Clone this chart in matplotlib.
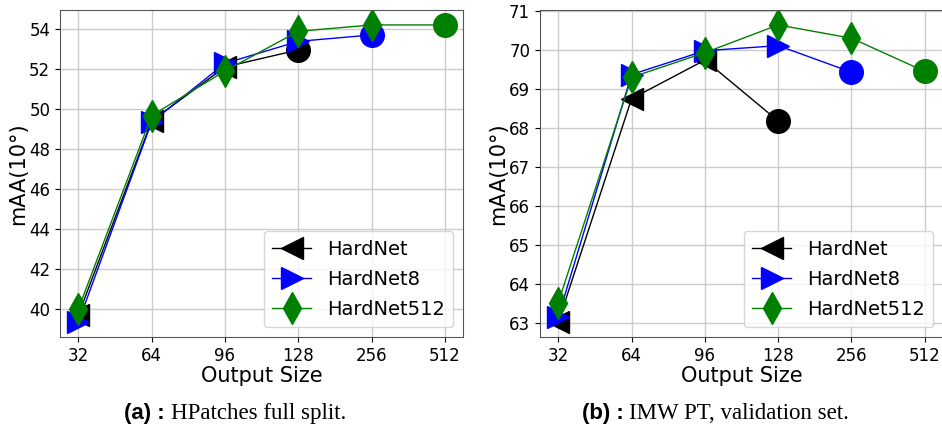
import numpy as np
import matplotlib.pyplot as plt

sizes = ['32', '64', '96', '128', '256', '512']

# (a) HPatches full split
hp_hardnet = [39.7, 49.4, 52.1, 52.95]
hp_hardnet8 = [39.35, 49.35, 52.28, 53.38, 53.7]
hp_hardnet512 = [40.0, 49.67, 51.9, 53.88, 54.2, 54.2]

# (b) IMW PT validation set
imw_hardnet = [63.03, 68.75, 69.74, 68.18]
imw_hardnet8 = [63.17, 69.37, 69.98, 70.11, 69.43]
imw_hardnet512 = [63.53, 69.3, 69.93, 70.64, 70.3, 69.45]

names = ['HardNet', 'HardNet8', 'HardNet512']
colors = ['black', 'blue', 'green']
markers = ['<', '>', 'd']


def draw(ax, series):
    for vals, name, c, m in zip(series, names, colors, markers):
        x = np.arange(len(vals))
        ax.plot(x, vals, color=c, marker=m, markersize=16, linewidth=1,
                markevery=list(range(len(vals) - 1)), label=name)
        ax.plot(x[-1], vals[-1], 'o', color=c, markersize=17)
    ax.set_xticks(np.arange(len(sizes)))
    ax.set_xticklabels(sizes)
    ax.tick_params(labelsize=12)
    ax.set_xlabel('Output Size', fontsize=15, labelpad=1)
    ax.set_ylabel('mAA(10°)', fontsize=15, labelpad=1)
    ax.grid(True, color='#cccccc', linewidth=1)
    ax.set_axisbelow(True)
    for s in ax.spines.values():
        s.set_color('#555555')
    ax.legend(loc='lower right', fontsize=14, borderpad=0.45, labelspacing=0.55)


fig = plt.figure(figsize=(9.42, 4.29), dpi=100)
ax1 = fig.add_axes([0.0637, 0.2145, 0.428, 0.762])
ax2 = fig.add_axes([0.5732, 0.2145, 0.428, 0.762])

draw(ax1, [hp_hardnet, hp_hardnet8, hp_hardnet512])
draw(ax2, [imw_hardnet, imw_hardnet8, imw_hardnet512])
ax1.set_yticks(np.arange(40, 55, 2))
ax2.set_yticks(np.arange(63, 72, 1))

# sub-captions under each panel
for xc, tag, txt in [(0.175, '(a) :', 'HPatches full split.'),
                     (0.662, '(b) :', 'IMW PT, validation set.')]:
    fig.text(xc, 0.035, tag, fontsize=16, fontweight='bold',
             ha='right', va='center', family='Liberation Sans')
    fig.text(xc + 0.006, 0.035, txt, fontsize=16.5, ha='left', va='center',
             family='Liberation Serif')

fig.savefig('out.png', dpi=100)
